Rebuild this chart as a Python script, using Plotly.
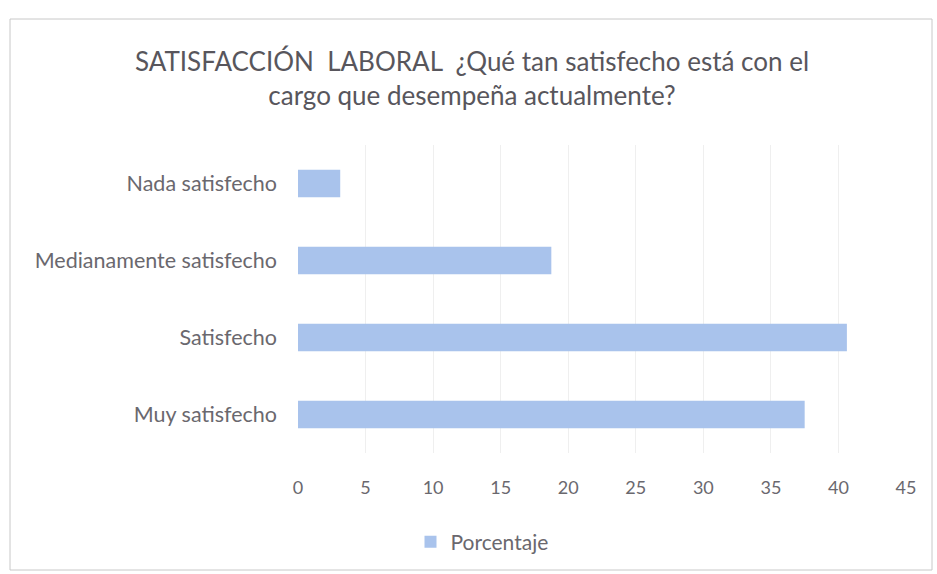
import plotly.graph_objects as go

# Survey results: job satisfaction (percent of respondents)
categories = ["Muy satisfecho", "Satisfecho", "Medianamente satisfecho", "Nada satisfecho"]
porcentaje = [37.5, 40.625, 18.75, 3.125]
x_ticks = [0, 5, 10, 15, 20, 25, 30, 35, 40, 45]

W, H = 937, 574
PL, PR, PT, PB = 298, 906, 145, 453  # plot area in pixels

FONT = "Lato, Open Sans, sans-serif"
GREY = "#6a686e"

fig = go.Figure(
    go.Bar(
        y=categories,
        x=porcentaje,
        orientation="h",
        name="Porcentaje",
        marker=dict(color="#a9c3ec", line=dict(width=0)),
    )
)


def px_to_paper_x(px):
    return (px - PL) / (PR - PL)


def px_to_paper_y(py):
    return (PB - py) / (PB - PT)


fig.update_layout(
    width=W,
    height=H,
    margin=dict(l=PL, r=W - PR, t=PT, b=H - PB, autoexpand=False),
    paper_bgcolor="white",
    plot_bgcolor="white",
    bargap=0.64,
    title=dict(
        text="SATISFACCIÓN  LABORAL  ¿Qué tan satisfecho está con el<br>cargo que desempeña actualmente?",
        x=472 / W,
        xref="container",
        xanchor="center",
        y=1 - 71 / H,
        yref="container",
        yanchor="middle",
        font=dict(family=FONT, size=26, color="#58565c"),
    ),
    showlegend=True,
    legend=dict(
        orientation="h",
        xref="container",
        yref="container",
        x=482 / W,
        y=1 - 542 / H,
        xanchor="center",
        yanchor="middle",
        font=dict(family=FONT, size=21, color=GREY),
        itemwidth=30,
    ),
    xaxis=dict(
        range=[0, 45],
        tickvals=x_ticks,
        showgrid=True,
        gridcolor="#efefef",
        gridwidth=1,
        zeroline=False,
        showline=False,
        tickfont=dict(family=FONT, size=18, color=GREY),
        ticks="",
        ticklabelstandoff=22,
    ),
    yaxis=dict(
        showgrid=False,
        showline=False,
        zeroline=False,
        ticks="",
        ticklabelstandoff=20,
        tickfont=dict(family=FONT, size=21.5, color=GREY),
        categoryorder="array",
        categoryarray=categories,
    ),
    shapes=[
        dict(
            type="rect",
            xref="paper",
            yref="paper",
            x0=px_to_paper_x(10),
            x1=px_to_paper_x(932),
            y0=px_to_paper_y(570),
            y1=px_to_paper_y(19),
            line=dict(color="#c8c8c8", width=1),
            fillcolor="rgba(0,0,0,0)",
            layer="below",
        )
    ],
)

fig.write_html("out.html")
